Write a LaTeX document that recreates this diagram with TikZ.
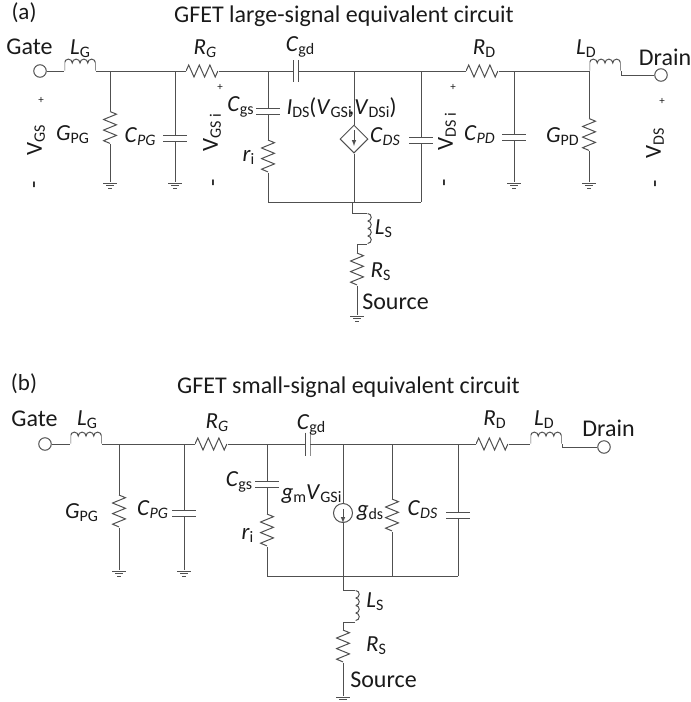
\documentclass[tikz,border=0pt]{standalone}
\usepackage{fontspec}
\setmainfont{Carlito}
\usetikzlibrary{shapes}
\usetikzlibrary{arrows}
\definecolor{wirec}{HTML}{505050}
\definecolor{textc}{HTML}{1A1A1A}
\newcommand{\lab}[2]{\textit{#1}{\fontsize{16}{16}\selectfont\raisebox{-3pt}{#2}}}
\newcommand{\labi}[2]{\textit{#1}{\fontsize{16}{16}\selectfont\raisebox{-3pt}{\textit{#2}}}}
\newcommand{\labr}[2]{#1{\fontsize{16}{16}\selectfont\raisebox{-3pt}{#2}}}
\begin{document}
\begin{tikzpicture}[x=1pt,y=-1pt,line width=1pt,color=wirec,
	txt/.style={inner sep=0,text=textc,font=\fontsize{23}{25}\selectfont},
	big/.style={inner sep=0,text=textc,font=\fontsize{24}{26}\selectfont},
	sign/.style={inner sep=0,text=textc,font=\fontsize{11}{12}\selectfont},
	hres/.style={inner sep=0,minimum width=32pt,minimum height=15pt,path picture={
		\draw (path picture bounding box.west) -- ++(2.7pt,6pt) -- ++(5.3pt,-12pt) -- ++(5.3pt,12pt) -- ++(5.3pt,-12pt) -- ++(5.3pt,12pt) -- ++(5.3pt,-12pt) -- ++(2.7pt,6pt);}},
	vres/.style={inner sep=0,minimum height=32pt,minimum width=15pt,path picture={
		\draw (path picture bounding box.north) -- ++(6.5pt,-2.7pt) -- ++(-13pt,-5.3pt) -- ++(13pt,-5.3pt) -- ++(-13pt,-5.3pt) -- ++(13pt,-5.3pt) -- ++(-13pt,-5.3pt) -- ++(6.5pt,-2.7pt);}},
	hind/.style={inner sep=0,minimum width=31pt,minimum height=12.5pt,anchor=south west,path picture={
		\draw (path picture bounding box.south west) -- ++(0pt,7.5pt) arc[start angle=180,end angle=0,radius=3.875pt] arc[start angle=180,end angle=0,radius=3.875pt] arc[start angle=180,end angle=0,radius=3.875pt] arc[start angle=180,end angle=0,radius=3.875pt] -- ++(0pt,-7.5pt);}},
	vind/.style={inner sep=0,minimum width=4.5pt,minimum height=30pt,anchor=north west,path picture={
		\draw (path picture bounding box.north west) arc[start angle=90,end angle=-90,radius=3.75pt] arc[start angle=90,end angle=-90,radius=3.75pt] arc[start angle=90,end angle=-90,radius=3.75pt] arc[start angle=90,end angle=-90,radius=3.75pt];}},
	vcap/.style={inner sep=0,outer sep=-0.5pt,minimum width=24pt,minimum height=7pt,path picture={
		\draw ([yshift=-0.5pt]path picture bounding box.north west) -- ([yshift=-0.5pt]path picture bounding box.north east);
		\draw ([yshift=0.5pt]path picture bounding box.south west) -- ([yshift=0.5pt]path picture bounding box.south east);}},
	hcap/.style={inner sep=0,outer sep=-0.5pt,minimum width=6pt,minimum height=22pt,path picture={
		\draw ([xshift=0.5pt]path picture bounding box.north west) -- ([xshift=0.5pt]path picture bounding box.south west);
		\draw ([xshift=-0.5pt]path picture bounding box.north east) -- ([xshift=-0.5pt]path picture bounding box.south east);}},
	gnd/.style={inner sep=0,minimum width=14pt,minimum height=7pt,anchor=north,path picture={
		\draw ([yshift=-0.5pt]path picture bounding box.north west) -- ([yshift=-0.5pt]path picture bounding box.north east);
		\draw ([xshift=3pt,yshift=-3.2pt]path picture bounding box.north west) -- ([xshift=-3pt,yshift=-3.2pt]path picture bounding box.north east);
		\draw ([xshift=5pt,yshift=-6pt]path picture bounding box.north west) -- ([xshift=-5pt,yshift=-6pt]path picture bounding box.north east);}},
	term/.style={circle,draw=wirec,inner sep=0,minimum size=12.5pt}
	]
	\useasboundingbox (0,0) rectangle (691,702);

	\node[txt] (taga) at (24,13) {(a)};
	\node[big] (titlea) at (344,16) {GFET large-signal equivalent circuit};
	\node[big] (tgatea) at (29.5,47) {Gate};
	\node[big] (tdraina) at (665,57) {Drain};
	\node[big] (tsourcea) at (395.5,302) {Source};
	\node[term] (gatea) at (40,71) {};
	\node[term] (draina) at (661,75) {};
	\node[hind] (LGa) at (64,71) {};
	\node[hind] (LDa) at (589,71) {};
	\node[hres] (RGa) at (202,71) {};
	\node[hres] (RDa) at (482,71) {};
	\node[hcap] (Cgda) at (296,71) {};
	\node[vres] (GPGa) at (110,127.5) {};
	\node[vres] (GPDa) at (589,134.5) {};
	\node[vres] (ria) at (268,156) {};
	\node[vres] (RSa) at (357,269) {};
	\node[vind] (LSa) at (367,213) {};
	\node[vcap] (CPGa) at (175,138) {};
	\node[vcap] (CPDa) at (514,137.5) {};
	\node[vcap] (Cgsa) at (268,111) {};
	\node[vcap] (CDSa) at (421,140) {};
	\node[diamond,draw=wirec,inner sep=0,minimum size=28pt] (isrca) at (354,139) {};
	\node[gnd] (g1a) at (110,182) {};
	\node[gnd] (g2a) at (175,182) {};
	\node[gnd] (g3a) at (514,182) {};
	\node[gnd] (g4a) at (589,182) {};
	\node[gnd] (g5a) at (357,315) {};
	\coordinate (j1a) at (110,71);
	\coordinate (j2a) at (175,71);
	\coordinate (j3a) at (268,71);
	\coordinate (j4a) at (354,71);
	\coordinate (j5a) at (421,71);
	\coordinate (j6a) at (514,71);
	\coordinate (b1a) at (268,202);
	\coordinate (b2a) at (354,202);
	\coordinate (b3a) at (421,202);
	\coordinate (b4a) at (352,202);

	\draw (gatea) -- (LGa.south west);
	\draw (LGa.south east) -- (RGa.west);
	\draw (RGa.east) -- (Cgda.west);
	\draw (Cgda.east) -- (RDa.west);
	\draw (RDa.east) -- (LDa.south west);
	\draw (LDa.south east) |- (draina);
	\draw (j1a) -- (GPGa.north);
	\draw (GPGa.south) -- (g1a.north);
	\draw (j2a) -- (CPGa.north);
	\draw (CPGa.south) -- (g2a.north);
	\draw (j3a) -- (Cgsa.north);
	\draw (Cgsa.south) -- (ria.north);
	\draw (ria.south) -- (b1a) -- (b3a);
	\draw (j4a) -- (isrca.north);
	\draw (isrca.south) -- (b2a);
	\draw (j5a) -- (CDSa.north);
	\draw (CDSa.south) -- (b3a);
	\draw (j6a) -- (CPDa.north);
	\draw (CPDa.south) -- (g3a.north);
	\draw (LDa.south west) -- (GPDa.north);
	\draw (GPDa.south) -- (g4a.north);
	\draw (b4a) |- (LSa.north west);
	\draw (LSa.south west) -| (RSa.north);
	\draw (RSa.south) -- (g5a.north);
	\draw[-latex] ([yshift=9pt]isrca.center) -- ([yshift=-7pt]isrca.center);

	\node[txt] (tLGa) at (80,49) {\lab{L}{G}};
	\node[txt] (tRGa) at (205,49) {\labi{R}{G}};
	\node[txt] (tCgda) at (300,47) {\lab{C}{gd}};
	\node[txt] (tCgsa) at (240.5,107) {\lab{C}{gs}};
	\node[txt,anchor=west] (tIDSa) at (286,108) {\lab{I}{DS}(\lab{V}{GSi}\kern-3pt,\lab{V}{DSi})};
	\node[txt] (tGPGa) at (72.5,135) {\lab{G}{PG}};
	\node[txt] (tCPGa) at (140,137) {\labi{C}{PG}};
	\node[txt] (tria) at (248.5,157) {\lab{r}{i}};
	\node[txt] (tCDSa) at (385,137) {\labi{C}{DS}};
	\node[txt] (tRDa) at (484,49) {\lab{R}{D}};
	\node[txt] (tLDa) at (586,49) {\lab{L}{D}};
	\node[txt] (tCPDa) at (479.5,135) {\labi{C}{PD}};
	\node[txt] (tGPDa) at (562.5,137) {\lab{G}{PD}};
	\node[txt] (tLSa) at (383.5,229) {\lab{L}{S}};
	\node[txt] (tRSa) at (380.5,272) {\lab{R}{S}};
	\node[txt,rotate=90] (tVGSa) at (36,140) {\labr{V}{GS}};
	\node[txt,rotate=90] (tVGSia) at (212,133) {\labr{V}{GS i}};
	\node[txt,rotate=90] (tVDSia) at (447,132) {\labr{V}{DS i}};
	\node[txt,rotate=90] (tVDSa) at (655,143) {\labr{V}{DS}};
	\node[sign] (p1a) at (41,100) {+};
	\node[sign] (p2a) at (220,87) {+};
	\node[sign] (p3a) at (453,87) {+};
	\node[sign] (p4a) at (662,101) {+};
	\node[big,rotate=90] (m1a) at (37,185) {-};
	\node[big,rotate=90] (m2a) at (216,183) {-};
	\node[big,rotate=90] (m3a) at (447,183) {-};
	\node[big,rotate=90] (m4a) at (658,184) {-};

	\node[txt] (tagb) at (24,384) {(b)};
	\node[big] (titleb) at (348.5,387) {GFET small-signal equivalent circuit};
	\node[big] (tgateb) at (34.5,419) {Gate};
	\node[big] (tdrainb) at (608.5,428) {Drain};
	\node[big] (tsourceb) at (383.5,680) {Source};
	\node[term] (gateb) at (45,444) {};
	\node[term] (drainb) at (604,447) {};
	\node[hind] (LGb) at (70,444) {};
	\node[hind] (LDb) at (530,444) {};
	\node[hres] (RGb) at (211,444) {};
	\node[hres] (RDb) at (492,444) {};
	\node[hcap,minimum height=23pt] (Cgdb) at (307.5,444) {};
	\node[vres] (GPGb) at (119,511) {};
	\node[vres] (gdsb) at (392,515) {};
	\node[vres] (rib) at (267,530) {};
	\node[vres] (RSb) at (343,646) {};
	\node[vind,minimum height=31pt] (LSb) at (355,590) {};
	\node[vcap] (CPGb) at (184,513) {};
	\node[vcap] (Cgsb) at (267,484.5) {};
	\node[vcap] (CDSb) at (458,515) {};
	\node[circle,draw=wirec,inner sep=0,minimum size=19pt] (isrcb) at (343,513) {};
	\node[gnd] (g1b) at (119,570) {};
	\node[gnd] (g2b) at (184,570) {};
	\node[gnd] (g3b) at (343,696) {};
	\coordinate (j1b) at (119,444);
	\coordinate (j2b) at (184,444);
	\coordinate (j3b) at (267,444);
	\coordinate (j4b) at (343,444);
	\coordinate (j5b) at (392,444);
	\coordinate (j6b) at (458,444);
	\coordinate (b1b) at (267,576);
	\coordinate (b2b) at (343,576);
	\coordinate (b3b) at (392,576);
	\coordinate (b4b) at (458,576);

	\draw (gateb) -- (LGb.south west);
	\draw (LGb.south east) -- (RGb.west);
	\draw (RGb.east) -- (Cgdb.west);
	\draw (Cgdb.east) -- (RDb.west);
	\draw (RDb.east) -- (LDb.south west);
	\draw (LDb.south east) |- (drainb);
	\draw (j1b) -- (GPGb.north);
	\draw (GPGb.south) -- (g1b.north);
	\draw (j2b) -- (CPGb.north);
	\draw (CPGb.south) -- (g2b.north);
	\draw (j3b) -- (Cgsb.north);
	\draw (Cgsb.south) -- (rib.north);
	\draw (rib.south) -- (b1b) -- (b4b);
	\draw (j4b) -- (isrcb.north);
	\draw (isrcb.south) -- (b2b);
	\draw (j5b) -- (gdsb.north);
	\draw (gdsb.south) -- (b3b);
	\draw (j6b) -- (CDSb.north);
	\draw (CDSb.south) -- (b4b);
	\draw (b2b) |- (LSb.north west);
	\draw (LSb.south west) -| (RSb.north);
	\draw (RSb.south) -- (g3b.north);
	\draw[-latex] ([yshift=4pt]isrcb.center) -- (isrcb.south);

	\node[txt] (tLGb) at (87,420) {\lab{L}{G}};
	\node[txt] (tRGb) at (217,423) {\labi{R}{G}};
	\node[txt] (tCgdb) at (311,425) {\lab{C}{gd}};
	\node[txt] (tCgsb) at (239,482) {\lab{C}{gs}};
	\node[txt] (tgmb) at (311.5,494) {\lab{g}{m}\lab{V}{GSi}};
	\node[txt] (tGPGb) at (81.5,513) {\lab{G}{PG}};
	\node[txt] (tCPGb) at (152.5,510) {\labi{C}{PG}};
	\node[txt] (trib) at (247.5,535) {\lab{r}{i}};
	\node[txt] (tgdsb) at (370,513) {\lab{g}{ds}};
	\node[txt] (tCDSb) at (422.5,510) {\labi{C}{DS}};
	\node[txt] (tRDb) at (494.5,420) {\lab{R}{D}};
	\node[txt] (tLDb) at (544,420) {\lab{L}{D}};
	\node[txt] (tLSb) at (375,602) {\lab{L}{S}};
	\node[txt] (tRSb) at (376,646) {\lab{R}{S}};
\end{tikzpicture}
\end{document}
